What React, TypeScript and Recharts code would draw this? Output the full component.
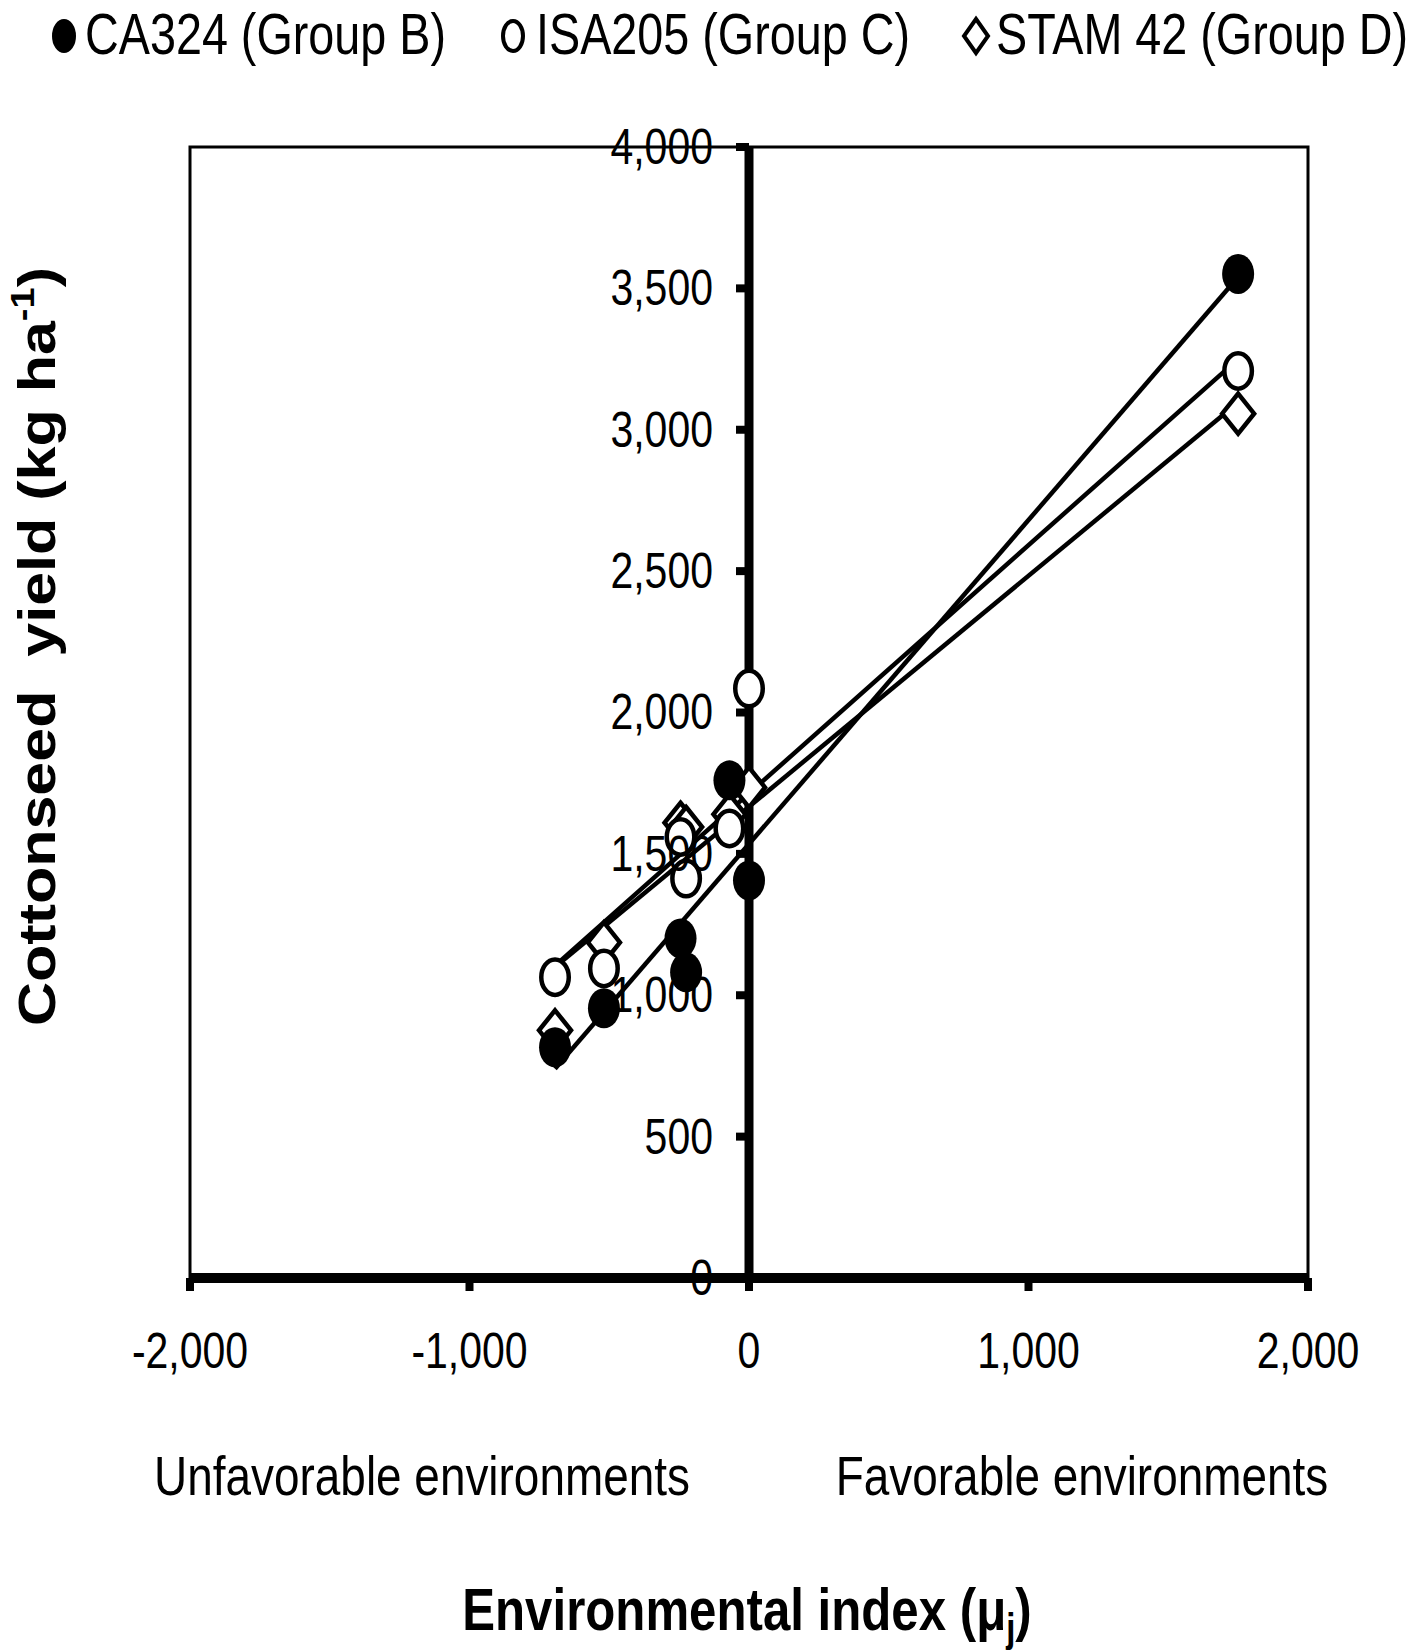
import React from "react";
import {
  ComposedChart,
  Line,
  ReferenceArea,
  ReferenceLine,
  Scatter,
  XAxis,
  YAxis,
} from "recharts";

// environmental index of each site (x) and yield of each cultivar (y)
const envIndex = [-694, -519, -245, -225, -70, 0, 1750];
const ca324 = [816, 954, 1201, 1081, 1760, 1406, 3551];
const isa205 = [1064, 1095, 1560, 1413, 1590, 2085, 3208];
const stam42 = [876, 1187, 1610, 1595, 1640, 1735, 3057];

// regression lines, drawn over the range of the index
const fitRange = [-694, 1750];
const ca324Fit = [740, 3540];
const isa205Fit = [1105, 3250];
const stam42Fit = [1100, 3096];

const xTicks = [-2000, -1000, 0, 1000, 2000];
const yTicks = [0, 500, 1000, 1500, 2000, 2500, 3000, 3500, 4000];

const W = 1413;
const H = 1650;
const yAxisW = 20;
const margin = { top: 147, right: 105, bottom: 312, left: 190 - yAxisW };
const xDomain: [number, number] = [-2000, 2000];
const yDomain: [number, number] = [0, 4000];
const plotLeft = margin.left + yAxisW;
const plotW = W - plotLeft - margin.right;
const zeroX = plotLeft + (plotW * (0 - xDomain[0])) / (xDomain[1] - xDomain[0]);

const font = "'Liberation Sans', Arial, sans-serif";
const squeeze = 0.82; // the source figure is horizontally condensed

type Kind = "filled" | "open" | "diamond";

const series: { name: string; values: number[]; fit: number[]; kind: Kind }[] = [
  { name: "CA324 (Group B)", values: ca324, fit: ca324Fit, kind: "filled" },
  { name: "ISA205 (Group C)", values: isa205, fit: isa205Fit, kind: "open" },
  { name: "STAM 42 (Group D)", values: stam42, fit: stam42Fit, kind: "diamond" },
];

const fmt = (v: number) => v.toLocaleString("en-US");

function NarrowText(props: {
  x: number;
  y: number;
  size: number;
  anchor?: "start" | "middle" | "end";
  weight?: string;
  dy?: string;
  baseline?: string;
  children: React.ReactNode;
}) {
  const { x, y, size, anchor = "start", weight = "normal", dy, baseline, children } = props;
  return (
    <text
      transform={`translate(${x},${y}) scale(${squeeze},1)`}
      textAnchor={anchor}
      dominantBaseline={baseline}
      dy={dy}
      fontFamily={font}
      fontSize={size}
      fontWeight={weight}
      fill="#000"
    >
      {children}
    </text>
  );
}

function markerEl(kind: Kind, cx: number, cy: number, rx: number, ry: number, sw: number) {
  if (kind === "filled") return <ellipse cx={cx} cy={cy} rx={rx} ry={ry} fill="#000" />;
  if (kind === "open")
    return <ellipse cx={cx} cy={cy} rx={rx - sw / 2} ry={ry - sw / 2} fill="#fff" stroke="#000" strokeWidth={sw} />;
  const pts = `${cx},${cy - ry} ${cx + rx},${cy} ${cx},${cy + ry} ${cx - rx},${cy}`;
  return <polygon points={pts} fill="#fff" stroke="#000" strokeWidth={sw} strokeLinejoin="miter" />;
}

const makeShape = (kind: Kind) => (props: any) => {
  const { cx, cy } = props;
  if (cx == null || cy == null) return <g />;
  return markerEl(kind, cx, cy, 16, 20, 4.5);
};

const YTick = (props: any) => {
  const { y, payload } = props;
  return (
    <g>
      <line x1={zeroX - 13} x2={zeroX} y1={y} y2={y} stroke="#000" strokeWidth={8} />
      <NarrowText x={zeroX - 36} y={y} size={50} anchor="end" baseline="central">
        {fmt(payload.value)}
      </NarrowText>
    </g>
  );
};

const XTick = (props: any) => {
  const { x, y, payload } = props;
  return (
    <NarrowText x={x} y={y} size={50} anchor="middle" dy="0.71em">
      {fmt(payload.value)}
    </NarrowText>
  );
};

const XTitle = (props: any) => {
  const { viewBox } = props;
  const { x, y, width } = viewBox;
  return (
    <g>
      <NarrowText x={x + 232} y={y + 217} size={56} anchor="middle">
        Unfavorable environments
      </NarrowText>
      <NarrowText x={x + 892} y={y + 217} size={56} anchor="middle">
        Favorable environments
      </NarrowText>
      <NarrowText x={x + width / 2 - 2} y={y + 352} size={60} anchor="middle" weight="bold">
        Environmental index (μ
        <tspan fontSize={40} dy={12}>
          j
        </tspan>
        <tspan dy={-12}>)</tspan>
      </NarrowText>
    </g>
  );
};

const YTitle = () => {
  const cx = 55;
  const cy = margin.top + (H - margin.top - margin.bottom - 60) / 2 - 66;
  return (
    <text
      transform={`translate(${cx},${cy}) rotate(-90) scale(1,0.86)`}
      textAnchor="middle"
      fontFamily={font}
      fontWeight="bold"
      fontSize={61}
      fill="#000"
    >
      Cottonseed{"\u00a0\u00a0"}yield (kg ha
      <tspan fontSize={38} dy={-24}>
        -1
      </tspan>
      <tspan dy={24}>)</tspan>
    </text>
  );
};

const legendPos = [
  { mark: 64, text: 85 },
  { mark: 513, text: 536 },
  { mark: 976, text: 996 },
];

export default function App() {
  return (
    <div style={{ position: "absolute", left: 0, top: 0, width: W, height: H, background: "#fff" }}>
      <svg width={W} height={90} style={{ position: "absolute", left: 0, top: 0 }}>
        {series.map((s, i) => (
          <g key={s.name}>
            {markerEl(s.kind, legendPos[i].mark, 36, 12, 17, 4)}
            <NarrowText x={legendPos[i].text} y={54} size={57}>
              {s.name}
            </NarrowText>
          </g>
        ))}
      </svg>
      <ComposedChart width={W} height={H} margin={margin} style={{ position: "absolute", left: 0, top: 0 }}>
        <ReferenceArea
          x1={xDomain[0]}
          x2={xDomain[1]}
          y1={yDomain[0]}
          y2={yDomain[1]}
          fill="none"
          fillOpacity={0}
          stroke="#000"
          strokeWidth={3}
        />
        <YAxis
          type="number"
          dataKey="y"
          domain={yDomain}
          ticks={yTicks}
          width={yAxisW}
          axisLine={false}
          tickLine={false}
          tick={<YTick />}
          interval={0}
          label={{ content: <YTitle /> }}
        />
        <ReferenceLine x={0} stroke="#000" strokeWidth={9} />
        <XAxis
          type="number"
          dataKey="x"
          domain={xDomain}
          ticks={xTicks}
          interval={0}
          height={60}
          axisLine={{ stroke: "#000", strokeWidth: 10 }}
          tickLine={{ stroke: "#000", strokeWidth: 8 }}
          tickSize={13}
          tickMargin={41}
          tick={<XTick />}
          label={{ content: <XTitle /> }}
        />
        {series.map((s) => (
          <Line
            key={s.name + "-fit"}
            data={fitRange.map((x, i) => ({ x, y: s.fit[i] }))}
            dataKey="y"
            type="linear"
            stroke="#000"
            strokeWidth={4.5}
            dot={false}
            activeDot={false}
            legendType="none"
            isAnimationActive={false}
          />
        ))}
        {[...series].reverse().map((s) => (
          <Scatter
            key={s.name}
            name={s.name}
            data={envIndex.map((x, i) => ({ x, y: s.values[i] }))}
            shape={makeShape(s.kind)}
            isAnimationActive={false}
          />
        ))}
      </ComposedChart>
    </div>
  );
}
